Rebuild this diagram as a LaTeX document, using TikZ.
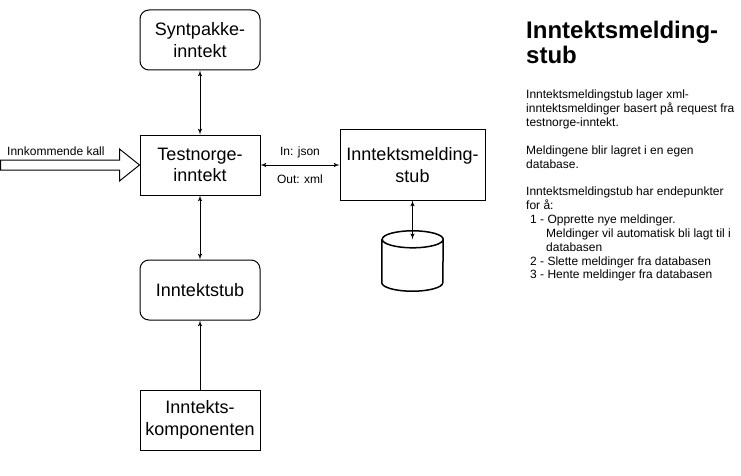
\documentclass[tikz,border=0pt]{standalone}
\usepackage{fontspec}
\setmainfont{Liberation Sans}
\usepackage{tikz}
\usetikzlibrary{calc}
\usetikzlibrary{arrows}
\tikzset{>=latex'}
\tikzstyle{block} = [draw, rectangle, line width=1pt,
    minimum height=60pt, minimum width=120pt, align=center,
    font=\fontsize{18}{21.6}\selectfont]
\tikzstyle{rblock} = [block, rounded corners=9pt]
\tikzstyle{store} = [rectangle, inner sep=0pt, minimum width=61pt, minimum height=60pt]
\tikzstyle{note} = [font=\fontsize{12}{13.85}\selectfont, inner sep=0pt]
\tikzstyle{conn} = [draw, line width=1pt, <->]

\begin{document}
\begin{tikzpicture}[auto, x=1pt, y=1pt, node distance=125pt, >=latex']
    \useasboundingbox (0,0) rectangle (741,-476);
    % We start by placing the blocks
    \node [block] (testnorge) at (200,-165) {Testnorge-\\inntekt};
    \node [rblock, above of=testnorge] (syntpakke) {Syntpakke-\\inntekt};
    \node [rblock, below of=testnorge] (inntektstub) {Inntektstub};
    \node [block, node distance=130pt, below of=inntektstub] (komponent) {Inntekts-\\komponenten};
    \node [block, node distance=212.5pt, right of=testnorge,
        minimum width=145pt, minimum height=70pt] (meldingstub) {Inntektsmelding-\\stub};
    \node [store, node distance=96pt, below of=meldingstub] (database) {};

    % The incoming call is a hollow block arrow into the west side
    \draw [line width=1pt, fill=white] (testnorge.west) -- ++(-20,16) -- ++(0,-11)
        -- ++(-119,0) -- ++(0,-10) -- ++(119,0) -- ++(0,-11) -- cycle;
    \node [note, anchor=base west] (kall) at (7,-155) {Innkommende kall};

    % The database is drawn as a cylinder round the store node
    \draw [line width=1.5pt, fill=white] ($(database.north west)+(0,-8.5)$)
        -- ($(database.south west)+(0,8.5)$)
        arc [start angle=180, end angle=360, x radius=30.5, y radius=8.5]
        -- ($(database.north east)+(0,-8.5)$)
        arc [start angle=0, end angle=180, x radius=30.5, y radius=8.5]
        arc [start angle=180, end angle=360, x radius=30.5, y radius=8.5];
    \coordinate (dbcap) at ($(database.north)+(0,-8.5)$);

    % Once the nodes are placed, connecting them is easy.
    \draw [conn] (syntpakke) -- (testnorge);
    \draw [conn] (testnorge) -- (inntektstub);
    \draw [draw, line width=1pt, ->] (komponent) -- (inntektstub);
    \draw [conn] (testnorge) -- node [note, above=6.5pt] {In: json}
        node [note, below=9.5pt] {Out: xml} (meldingstub);
    \draw [conn] (meldingstub) -- (dbcap);

    % Description on the right
    \node [anchor=north west, inner sep=0pt, align=left,
        font=\fontsize{24}{25.5}\selectfont\bfseries] (title) at (526,-20.5) {Inntektsmelding-\\stub};
    \node [note, anchor=north west, align=left] (about) at (526,-90) {%
        Inntektsmeldingstub lager xml-\\
        inntektsmeldinger basert på request fra\\
        testnorge-inntekt.\\[13.85pt]
        Meldingene blir lagret i en egen\\
        database.\\[13.85pt]
        Inntektsmeldingstub har endepunkter\\
        for å:\\
        \hspace*{4pt}1 - Opprette nye meldinger.\\
        \hspace*{20pt}Meldinger vil automatisk bli lagt til i\\
        \hspace*{20pt}databasen\\
        \hspace*{4pt}2 - Slette meldinger fra databasen\\
        \hspace*{4pt}3 - Hente meldinger fra databasen};
\end{tikzpicture}
\end{document}
